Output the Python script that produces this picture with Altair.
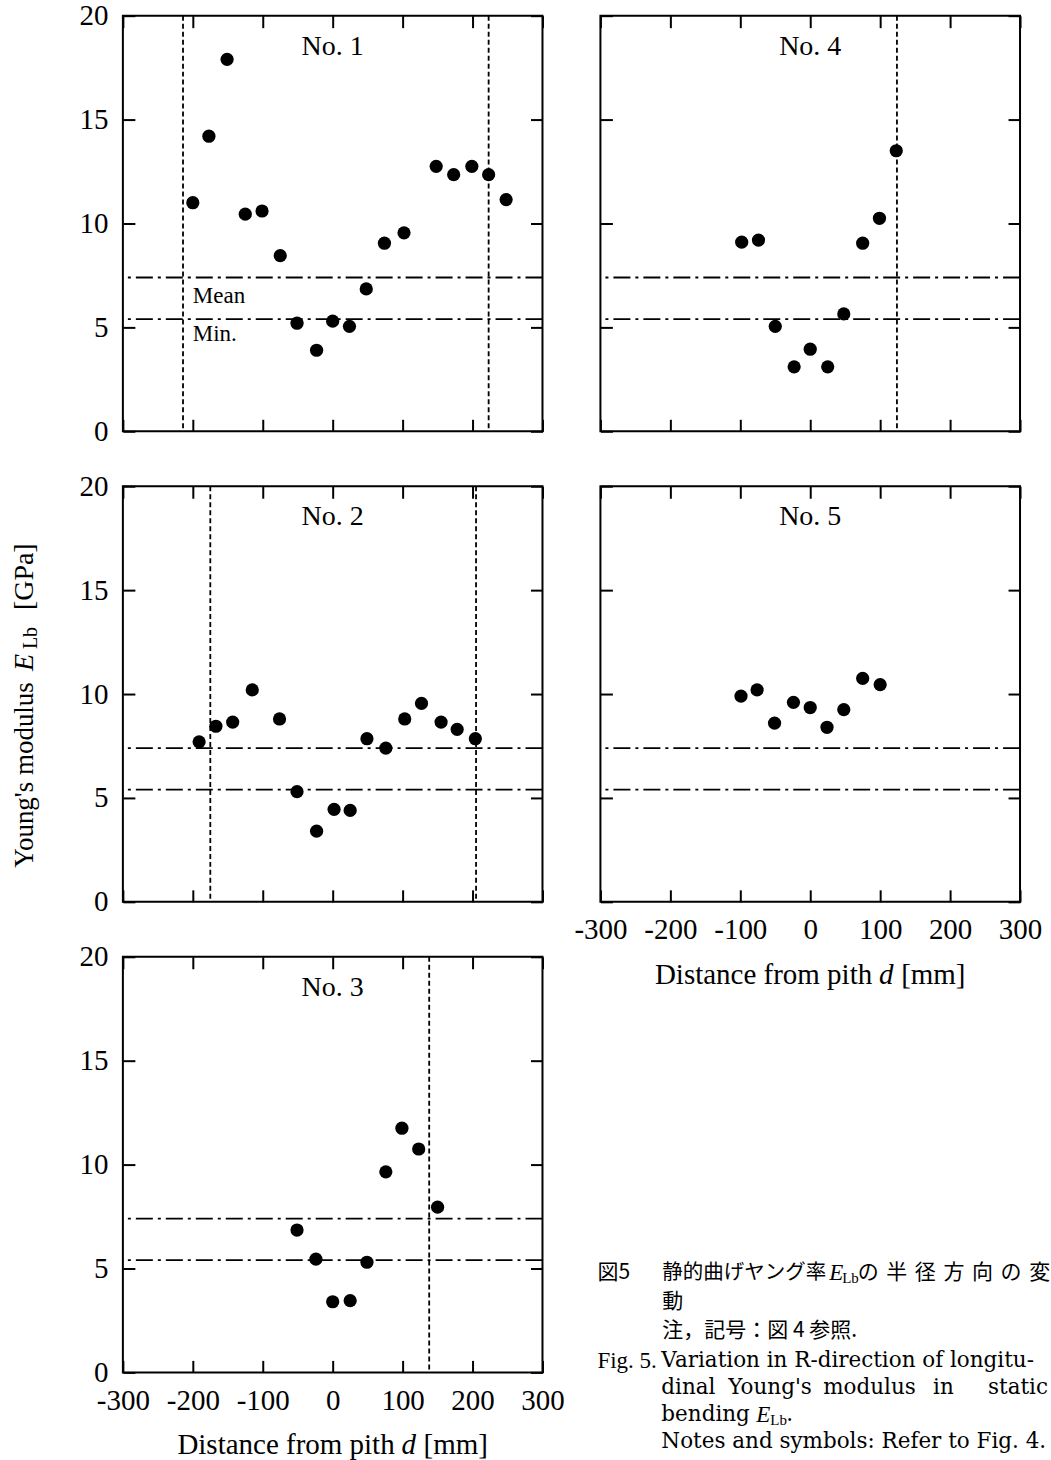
import altair as alt
import pandas as pd

SERIF = "Liberation Serif"
CAPF = "DejaVu Serif"
JP = "Noto Sans CJK JP"

# ---------------- data ----------------
no1_d = [-200, -177, -151, -125, -101, -75, -51, -23, 0, 24, 48, 74, 102, 148, 173, 199, 223, 248]
no1_E = [11.0, 14.2, 17.9, 10.45, 10.6, 8.45, 5.2, 3.9, 5.3, 5.05, 6.85, 9.05, 9.55, 12.75, 12.35, 12.75, 12.35, 11.15]
no2_d = [-191, -167, -143, -115, -76, -51, -23, 2, 25, 49, 76, 103, 127, 155, 178, 204]
no2_E = [7.7, 8.45, 8.65, 10.2, 8.8, 5.3, 3.4, 4.45, 4.4, 7.85, 7.4, 8.8, 9.55, 8.65, 8.3, 7.85]
no3_d = [-51, -24, 0, 25, 49, 76, 99, 123, 150]
no3_E = [6.85, 5.45, 3.4, 3.45, 5.3, 9.65, 11.75, 10.75, 7.95]
no4_d = [-98, -74, -50, -23, 0, 25, 48, 75, 99, 123]
no4_E = [9.1, 9.2, 5.05, 3.1, 3.95, 3.1, 5.65, 9.05, 10.25, 13.5]
no5_d = [-99, -76, -51, -24, 0, 24, 48, 75, 100]
no5_E = [9.9, 10.2, 8.6, 9.6, 9.35, 8.4, 9.25, 10.75, 10.45]

no1_edges = [-214, 223]
no2_edges = [-175, 205]
no3_edges = [138]
no4_edges = [124]
no5_edges = []

mean_level = 7.4
min_level = 5.4

x_ticks = [-300, -200, -100, 0, 100, 200, 300]
y_ticks = [0, 5, 10, 15, 20]

panel_titles = ["No. 1", "No. 2", "No. 3", "No. 4", "No. 5"]
y_title_parts = ["Young's modulus", "E", "Lb", "[GPa]"]
x_title_parts = ["Distance from pith", "d", "[mm]"]

cap_jp_1a = "図5"
cap_jp_1b = "静的曲げヤング率"
cap_sym_E = "E"
cap_sym_sub = "Lb"
cap_jp_1c = "の半径方向の変"
cap_jp_2 = "動"
cap_jp_3 = "注，記号：図 4 参照."
cap_en_fig = "Fig. 5."
cap_en_1 = "Variation in R-direction of longitu-"
cap_en_2_words = ["dinal", "Young's", "modulus", "in", "static"]
cap_en_3 = "bending"
cap_en_4 = "Notes and symbols: Refer to Fig. 4."

# ---------------- helpers ----------------
W, H = 420, 416
TICK = 12
LABEL_SIZE = 29

xscale = alt.Scale(domain=[-300, 300], nice=False, zero=False)
yscale = alt.Scale(domain=[0, 20], nice=False, zero=False)


def axis(orient, values, labels, pad):
    return alt.Axis(
        orient=orient, values=values, labels=labels, offset=-TICK, tickSize=TICK,
        tickWidth=2, tickColor="black", domain=False, grid=False, title=None,
        labelFont=SERIF, labelFontSize=LABEL_SIZE, labelColor="black",
        labelPadding=pad, labelFlush=False, labelOverlap=False,
        labelExpr="'' + datum.value",
    )


def txt(s, x, y, size, font=SERIF, align="left", baseline="middle", style="normal", angle=None):
    kw = dict(font=font, fontSize=size, align=align, baseline=baseline,
              color="black", fontStyle=style)
    if angle is not None:
        kw["angle"] = angle
    return alt.Chart(pd.DataFrame({"t": [s]})).mark_text(**kw).encode(
        x=alt.value(x), y=alt.value(y), text="t:N")


def x_title_layers():
    ly = H + 73
    return [
        txt(x_title_parts[0], 272, ly, 29, align="right"),
        txt(x_title_parts[1], 286, ly, 29, align="center", style="italic"),
        txt(x_title_parts[2], 301, ly, 29, align="left"),
    ]


def y_title_layers():
    lx = -98
    return [
        txt(y_title_parts[0], lx, 382, 27, angle=270),
        txt(y_title_parts[1], lx, 185, 28, angle=270, style="italic"),
        txt(y_title_parts[2], lx + 6, 163, 20, angle=270),
        txt(y_title_parts[3], lx, 124, 28, angle=270),
    ]


def panel(title, d, E, edges, ylabels, xlabels, extra=()):
    df = pd.DataFrame({"d": d, "E": E})
    hl = alt.Chart(pd.DataFrame({"v": [mean_level, min_level]})).mark_rule(
        color="black", strokeWidth=1.8, strokeDash=[17, 5, 3, 5]
    ).encode(y=alt.Y("v:Q", scale=yscale, axis=None))
    layers = [hl]
    if edges:
        vl = alt.Chart(pd.DataFrame({"v": edges})).mark_rule(
            color="black", strokeWidth=1.8, strokeDash=[5, 3]
        ).encode(x=alt.X("v:Q", scale=xscale, axis=None))
        layers.append(vl)
    pts = alt.Chart(df).mark_circle(size=175, color="black", opacity=1).encode(
        x=alt.X("d:Q", scale=xscale, axis=axis("bottom", x_ticks, xlabels, 14)),
        y=alt.Y("E:Q", scale=yscale, axis=axis("left", y_ticks, ylabels, 15)),
    )
    ghost = alt.Chart(df).mark_point(opacity=0).encode(
        x=alt.X("d:Q", scale=xscale, axis=axis("top", x_ticks, False, 2)),
        y=alt.Y("E:Q", scale=yscale, axis=axis("right", y_ticks, False, 2)),
    )
    layers += [pts, ghost, txt(title, 210, 31, 28, align="center")]
    layers += list(extra)
    return alt.layer(*layers).resolve_axis(x="independent", y="independent").properties(
        width=W, height=H, view=alt.ViewBackground(stroke="black", strokeWidth=2))


mean_min = [
    txt("Mean", 70, 281, 23),
    txt("Min.", 70, 319, 23),
]

p1 = panel(panel_titles[0], no1_d, no1_E, no1_edges, True, False, mean_min)
p2 = panel(panel_titles[1], no2_d, no2_E, no2_edges, True, False, y_title_layers())
p3 = panel(panel_titles[2], no3_d, no3_E, no3_edges, True, True, x_title_layers())
p4 = panel(panel_titles[3], no4_d, no4_E, no4_edges, False, False)
p5 = panel(panel_titles[4], no5_d, no5_E, no5_edges, False, True, x_title_layers())

# ---------------- caption ----------------
CS = 21.5
JS = 21
cap_layers = [
    txt(cap_jp_1a, -3, 317, JS, font=JP),
    txt(cap_jp_1b, 62, 317, 20.5, font=JP),
    txt(cap_sym_E, 229, 317, 23, font=SERIF, style="italic"),
    txt(cap_sym_sub, 242, 322, 15, font=SERIF),
]
for i, ch in enumerate(cap_jp_1c):
    cap_layers.append(txt(ch, 268 + i * 28.6, 317, JS, font=JP, align="center"))
cap_layers += [
    txt(cap_jp_2, 62, 346, JS, font=JP),
    txt(cap_jp_3, 62, 375, JS, font=JP),
    txt(cap_en_fig, -3, 405, 23, font=SERIF),
    txt(cap_en_1, 61, 405, CS, font=CAPF),
]
word_x = [61, 128, 223, 333]
for wx, w in zip(word_x, cap_en_2_words[:4]):
    cap_layers.append(txt(w, wx, 432, CS, font=CAPF))
cap_layers.append(txt(cap_en_2_words[4], 448, 432, CS, font=CAPF, align="right"))
cap_layers += [
    txt(cap_en_3, 61, 459, CS, font=CAPF),
    txt(cap_sym_E, 156, 459, 23, font=SERIF, style="italic"),
    txt(cap_sym_sub, 170, 464, 15, font=SERIF),
    txt(".", 186, 459, CS, font=CAPF),
    txt(cap_en_4, 61, 486, CS, font=CAPF),
]
caption = alt.layer(*cap_layers).properties(
    width=W, height=H, view=alt.ViewBackground(strokeOpacity=0, strokeWidth=0))

chart = alt.concat(
    p1, p4, p2, p5, p3, caption,
    columns=2, spacing={"row": 55, "column": 58}, bounds="flush",
).properties(
    padding={"left": 10, "top": 0, "right": 0, "bottom": 0},
    background="white",
).configure_view(stroke=None)

chart.save("out.html", embed_options={"renderer": "svg", "actions": False})
